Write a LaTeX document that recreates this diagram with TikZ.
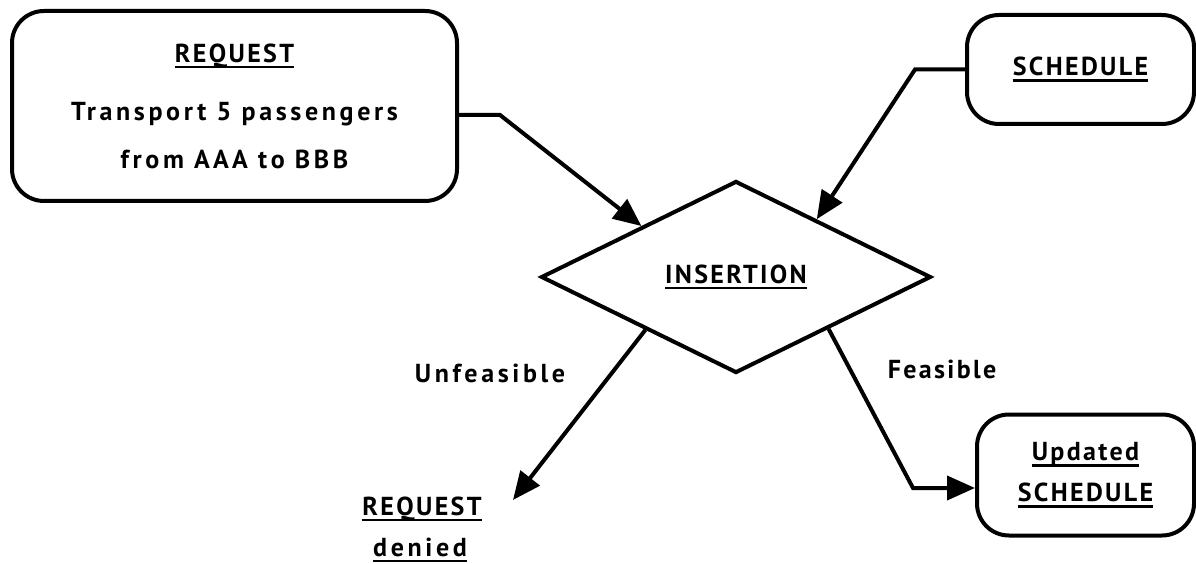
\documentclass[tikz,border=0pt]{standalone}
\usepackage{fontspec}
\setmainfont{PT Sans}[LetterSpace=9]
\newfontfamily\widefont{PT Sans}[LetterSpace=14]
\usetikzlibrary{arrows.meta,shapes.geometric,calc}

\newcommand{\ulin}[1]{\setbox0=\hbox{#1}\dp0=0pt\vtop{\copy0\kern3.5pt\hrule height 2.5pt width\wd0}}

\begin{document}
\begin{tikzpicture}[x=1pt,y=1pt,line width=4pt,
  every node/.style={font=\fontsize{26}{30}\selectfont\bfseries},
  box/.style={draw,rounded corners=32pt,align=center,inner sep=0pt},
  lbl/.style={anchor=base},
  flow/.style={-{Triangle[length=28pt,width=24pt]},line width=4pt}]
\useasboundingbox (0,0) rectangle (1196,563);

\node[box,minimum width=445pt,minimum height=190pt,
      font=\fontsize{26}{48}\selectfont\bfseries] (req) at (234.5,457)
  {\ulin{REQUEST}\\[10pt]{\widefont Transport 5 passengers}\\{\widefont from AAA to BBB}};
\node[box,minimum width=227pt,minimum height=109pt] (sched) at (1080.5,493.5) {\ulin{SCHEDULE}};
\node[draw,diamond,minimum width=390pt,minimum height=192pt,inner sep=0pt] (ins) at (736,286) {\ulin{INSERTION}};
\node[box,minimum width=217pt,minimum height=121pt,
      font=\fontsize{26}{41}\selectfont\bfseries] (upd) at (1085.5,88)
  {\ulin{Updated}\\\ulin{SCHEDULE}};

\node[lbl] (unf) at (490,181) {\widefont Unfeasible};
\node[lbl] (fea) at (942,185) {Feasible};
\node[lbl] (den1) at (422,48) {\ulin{REQUEST}};
\node[lbl] (den2) at (420,7) {\ulin{\widefont denied}};

\coordinate (rbend) at (500,448);
\coordinate (sbend) at (915,493.5);
\coordinate (dtip) at (513,63);
\coordinate (fbend) at (913,75);

\draw[flow] (rbend -| req.east) -- (rbend) -- ($(ins.west)!0.52!(ins.north)$);
\draw[flow] (sched.west) -- (sbend) -- ($(ins.north)!0.41!(ins.east)$);
\draw[flow] ($(ins.west)!0.54!(ins.south)$) -- (dtip);
\draw[flow] ($(ins.south)!0.47!(ins.east)$) -- (fbend) -- (fbend -| upd.west);
\end{tikzpicture}
\end{document}
